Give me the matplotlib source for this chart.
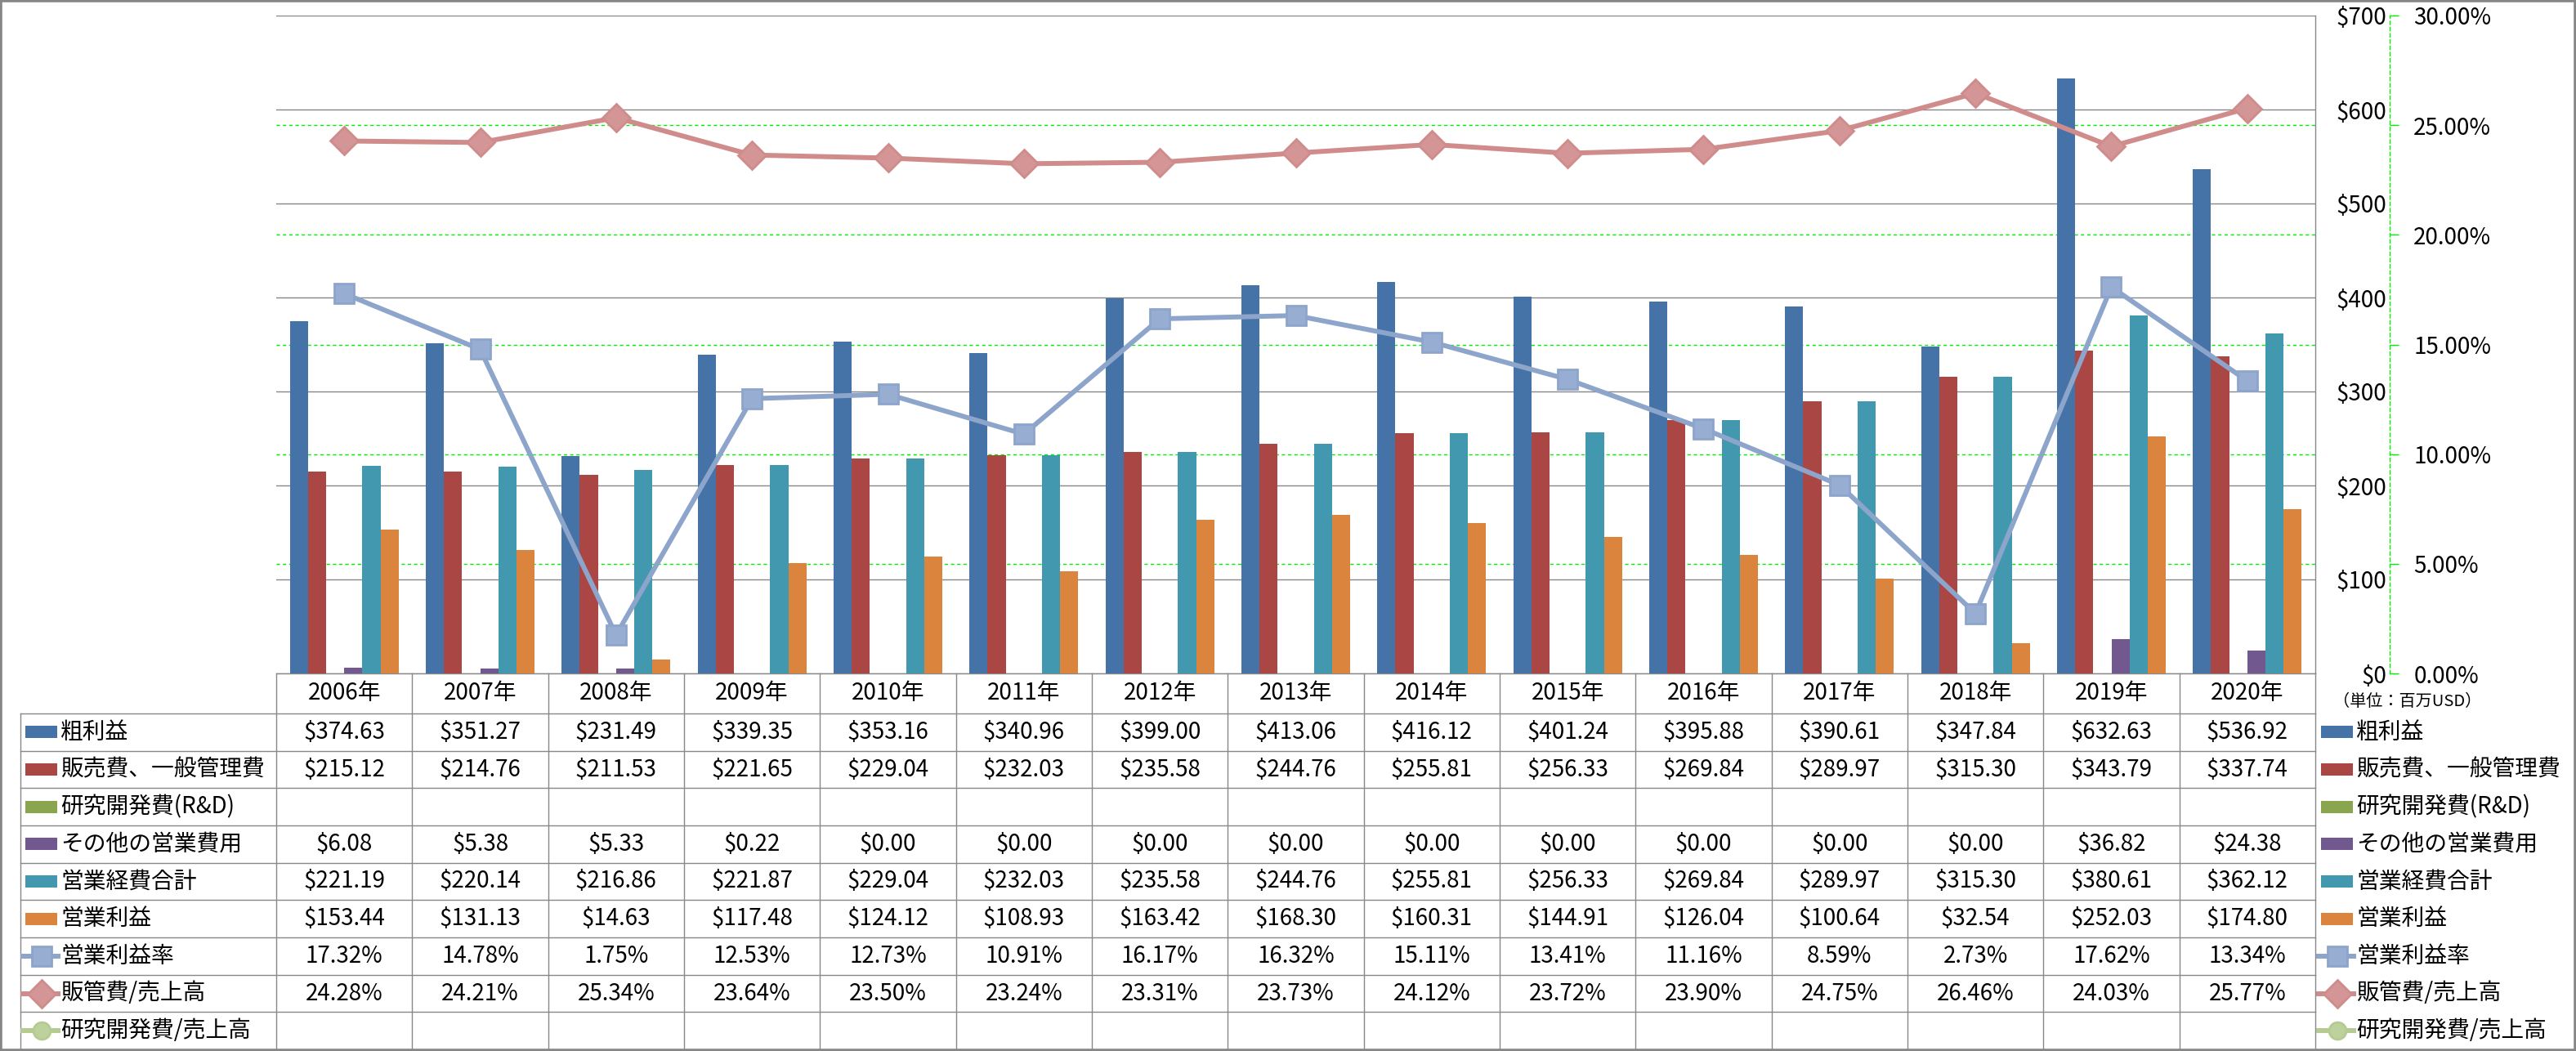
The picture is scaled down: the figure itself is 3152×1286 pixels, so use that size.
import numpy as np
import matplotlib
matplotlib.use('Agg')
import matplotlib.pyplot as plt
from matplotlib.transforms import blended_transform_factory
from matplotlib.patches import Rectangle
from matplotlib.lines import Line2D

plt.rcParams['font.family'] = ['Noto Sans CJK JP', 'DejaVu Sans']

# data (百万USD / %)
years = ['2006年', '2007年', '2008年', '2009年', '2010年', '2011年', '2012年', '2013年',
         '2014年', '2015年', '2016年', '2017年', '2018年', '2019年', '2020年']
gross = [374.63, 351.27, 231.49, 339.35, 353.16, 340.96, 399.00, 413.06, 416.12, 401.24,
         395.88, 390.61, 347.84, 632.63, 536.92]
sga = [215.12, 214.76, 211.53, 221.65, 229.04, 232.03, 235.58, 244.76, 255.81, 256.33,
       269.84, 289.97, 315.30, 343.79, 337.74]
rnd = [None] * 15
other = [6.08, 5.38, 5.33, 0.22, 0.00, 0.00, 0.00, 0.00, 0.00, 0.00, 0.00, 0.00, 0.00, 36.82, 24.38]
opex = [221.19, 220.14, 216.86, 221.87, 229.04, 232.03, 235.58, 244.76, 255.81, 256.33,
        269.84, 289.97, 315.30, 380.61, 362.12]
op_income = [153.44, 131.13, 14.63, 117.48, 124.12, 108.93, 163.42, 168.30, 160.31, 144.91,
             126.04, 100.64, 32.54, 252.03, 174.80]
op_margin = [17.32, 14.78, 1.75, 12.53, 12.73, 10.91, 16.17, 16.32, 15.11, 13.41, 11.16,
             8.59, 2.73, 17.62, 13.34]
sga_ratio = [24.28, 24.21, 25.34, 23.64, 23.50, 23.24, 23.31, 23.73, 24.12, 23.72, 23.90,
             24.75, 26.46, 24.03, 25.77]
rnd_ratio = [None] * 15

names = ['粗利益', '販売費、一般管理費', '研究開発費(R&D)', 'その他の営業費用', '営業経費合計',
         '営業利益', '営業利益率', '販管費/売上高', '研究開発費/売上高']
bar_colors = ['#4572A7', '#AA4643', '#89A54E', '#71588F', '#4198AF', '#DB843D']
line_colors = ['#8DA5CB', '#CF8C8B', '#B5CB92']
line_faces = ['#97AED2', '#D39595', '#BCD19B']
line_markers = ['s', 'D', 'o']

W, H = 3152, 1286
fig = plt.figure(figsize=(W / 100, H / 100), dpi=100)

def fx(px):
    return px / W

def fy(py):
    return 1 - py / H

L, R, T, B = 338, 2833, 19, 824
ax = fig.add_axes([fx(L), fy(B), fx(R - L), (B - T) / H])
ax2 = ax.twinx()

x = np.arange(len(years))
bars = [gross, sga, rnd, other, opex, op_income]
w = 1 / 7.5
for k, (vals, c) in enumerate(zip(bars, bar_colors)):
    v = np.array([np.nan if a is None else a for a in vals], dtype=float)
    ax.bar(x + (k - 2.5) * w, v, width=w, color=c, zorder=3)

ax.set_xlim(-0.5, len(years) - 0.5)
ax.set_ylim(0, 700)
ax.set_xticks([])
ax.set_yticks(range(0, 701, 100))
ax.set_yticklabels(['$%d' % v for v in range(0, 701, 100)])
ax.yaxis.tick_right()
ax.tick_params(axis='y', length=0, pad=63, labelsize=20)
for lab in ax.get_yticklabels():
    lab.set_ha('right')
ax.yaxis.grid(True, color='#878787', lw=1.0, zorder=0)
ax.set_axisbelow(True)
for s in ['left', 'top']:
    ax.spines[s].set_visible(False)
for s in ['bottom', 'right']:
    ax.spines[s].set_color('#888888')
    ax.spines[s].set_linewidth(1.0)

# secondary axis (%)
ax2.set_ylim(0, 0.30)
pct = np.arange(0, 0.301, 0.05)
ax2.set_yticks(pct)
ax2.set_yticklabels(['%.2f%%' % (p * 100) for p in pct])
green = '#00F000'
ax2.spines['right'].set_position(('outward', 65.5))
ax2.spines['right'].set_color(green)
ax2.spines['right'].set_linestyle((0, (3, 2.5)))
ax2.spines['right'].set_linewidth(1.0)
for s in ['left', 'top', 'bottom']:
    ax2.spines[s].set_visible(False)
ax2.tick_params(axis='y', direction='out', length=8, width=1, color=green,
                labelcolor='black', labelsize=20, pad=13)

# green dashed gridlines of the % axis, kept behind the bars
gtrans = blended_transform_factory(ax.transAxes, ax2.transData)
for p in pct[1:-1]:
    ax.plot([0, 1], [p, p], transform=gtrans, color=green, lw=1.0,
            ls=(0, (3, 2.5)), zorder=1)

ratios = [op_margin, sga_ratio, rnd_ratio]
msizes = [17, 17, 15]
for vals, c, fc, m, ms in zip(ratios, line_colors, line_faces, line_markers, msizes):
    v = np.array([np.nan if a is None else a / 100 for a in vals], dtype=float)
    ax2.plot(x, v, color=c, lw=4.3, marker=m, ms=ms, mfc=fc, mec=c, mew=2,
             solid_joinstyle='round', solid_capstyle='round')

# data table
ttrans = blended_transform_factory(ax.transData, fig.transFigure)
row_top = 873
rh = (1284 - 873) / 9
grid_c = '#888888'
for i, yr in enumerate(years):
    ax.text(i, fy((B + row_top) / 2), yr, transform=ttrans, ha='center', va='center',
            fontsize=20, clip_on=False)

rows = [gross, sga, rnd, other, opex, op_income, op_margin, sga_ratio, rnd_ratio]
for r, vals in enumerate(rows):
    yc = fy(row_top + (r + 0.5) * rh)
    for i, v in enumerate(vals):
        if v is None:
            continue
        s = ('%.2f%%' % v) if r >= 6 else ('$%.2f' % v)
        ax.text(i, yc, s, transform=ttrans, ha='center', va='center', fontsize=20,
                clip_on=False)

for r in range(10):
    yy = fy(row_top + r * rh)
    fig.add_artist(Line2D([fx(25), fx(R)], [yy, yy], color=grid_c, lw=1.0))
fig.add_artist(Line2D([fx(25), fx(25)], [fy(row_top), fy(1284)], color=grid_c, lw=1.0))
for i in range(len(years) + 1):
    ax.plot([i - 0.5, i - 0.5], [fy(B), fy(1284)], transform=ttrans, color=grid_c,
            lw=1.0, clip_on=False)

# series keys: in the table's first column and on the right
def key(x0, x1, tx, r):
    yc = fy(row_top + (r + 0.5) * rh)
    if r < 6:
        fig.add_artist(Rectangle((fx(x0), yc - 7.5 / H), fx(x1 - x0), 15 / H,
                                 transform=fig.transFigure, color=bar_colors[r], lw=0))
    else:
        j = r - 6
        fig.add_artist(Line2D([fx(x0 - 3), fx(x1 + 1)], [yc, yc], color=line_colors[j], lw=4.3))
        fig.add_artist(Line2D([fx((x0 + x1) / 2)], [yc], marker=line_markers[j], ms=msizes[j],
                              mfc=line_faces[j], mec=line_colors[j], mew=2, lw=0))
    fig.text(fx(tx), yc, names[r], ha='left', va='center', fontsize=20)

for r in range(9):
    key(31, 70, 74, r)
    key(2840, 2879, 2883, r)

fig.text(fx(2946), fy(858), '（単位：百万USD）', ha='center', va='center', fontsize=14.5)

# outer frame
fig.add_artist(Rectangle((0, 0), 1, 1, transform=fig.transFigure, fill=False,
                         edgecolor='#868686', lw=4))

fig.savefig('out.png', dpi=100)
